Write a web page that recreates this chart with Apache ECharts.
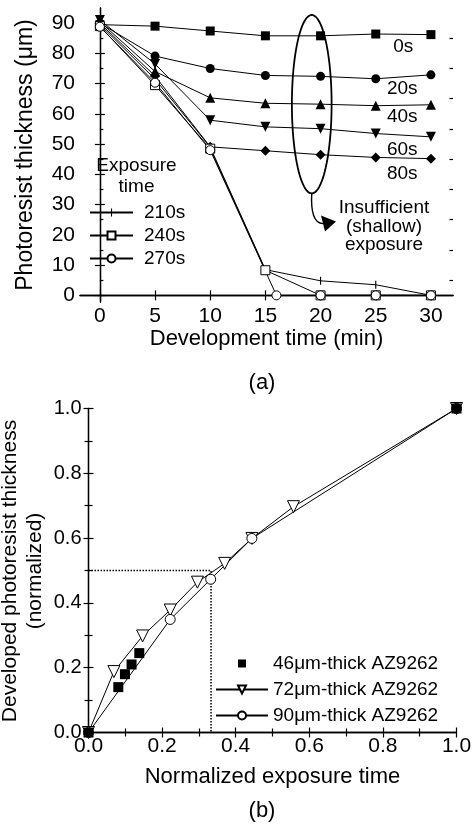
<!DOCTYPE html>
<html>
<head>
<meta charset="utf-8">
<script src="https://cdn.jsdelivr.net/npm/echarts@6/dist/echarts.min.js"></script>
<style>html,body{margin:0;padding:0;background:#fff}#c{width:476px;height:825px}</style>
</head>
<body>
<div id="c"></div>
<script>
// ---------- Data: chart (a) ----------
const devTime = [0, 5, 10, 15, 20, 25, 30];
const devTime270 = [0, 5, 10, 16, 20, 25, 30];
const thick0s   = [89.5, 89.0, 87.4, 85.8, 85.8, 86.4, 86.2];
const thick20s  = [90.0, 79.1, 75.0, 72.7, 72.4, 71.6, 72.9];
const thick40s  = [90.5, 74.0, 65.3, 63.5, 63.2, 62.7, 63.0];
const thick60s  = [91.0, 76.5, 57.9, 55.7, 55.1, 53.5, 52.4];
const thick80s  = [90.0, 72.5, 49.1, 47.8, 46.5, 45.6, 45.2];
const thick210s = [89.5, 71.5, 49.0, 8.5, 4.8, 3.5, 0];
const thick240s = [89.0, 69.5, 48.5, 8.3, 0, 0, 0];
const thick270s = [88.8, 70.3, 48.0, 0, 0, 0, 0];
const xTicksA = [0, 5, 10, 15, 20, 25, 30];
const yTicksA = [0, 10, 20, 30, 40, 50, 60, 70, 80, 90];
const yMinorA = [5, 15, 25, 35, 45, 55, 65, 75, 85];

// ---------- Data: chart (b) ----------
const exp46 = [0, 0.081, 0.099, 0.117, 0.138, 1];
const dev46 = [0, 0.14, 0.18, 0.21, 0.245, 1];
const exp72 = [0, 0.069, 0.147, 0.222, 0.296, 0.37, 0.444, 0.557, 1];
const dev72 = [0, 0.188, 0.298, 0.378, 0.464, 0.522, 0.599, 0.697, 1];
const exp90 = [0, 0.222, 0.332, 0.444, 1];
const dev90 = [0, 0.349, 0.473, 0.599, 1];
const guideX = [0, 0.333, 0.333];
const guideY = [0.5, 0.5, 0];

const FONT = 'Liberation Sans, Arial, Helvetica, sans-serif';
const zip = (xs, ys) => xs.map((x, i) => [x, ys[i]]);

const chart = echarts.init(document.getElementById('c'), null, {renderer: 'canvas'});

const axLine = {lineStyle: {color: '#000', width: 1.3}};
const tickMaj = (vals, len) => ({show: true, inside: true, length: len || 5, customValues: vals, lineStyle: {color: '#000', width: 1.2}});
const noSplit = {show: false};

const A_RANGE_X = {min: -1.8, max: 32};
const A_RANGE_Y = {min: -2.2, max: 95};

// thin vertical bar inside a square bounding box (corner dots are sub-pixel)
const BAR = 'path://M0,0h0.05v0.05h-0.05z M4.3,0h1.4v10h-1.4z M9.95,9.95h0.05v0.05h-0.05z';

const lineBase = (name, xs, ys, symbol, size, open, extra) => Object.assign({
  name, type: 'line', xAxisIndex: 0, yAxisIndex: 0,
  data: zip(xs, ys), symbol, symbolSize: size, clip: false,
  lineStyle: {color: '#000', width: 1},
  itemStyle: open ? {color: '#fff', borderColor: '#000', borderWidth: 1} : {color: '#000'},
  emphasis: {disabled: true}
}, extra || {});

const bTick = {show: true, inside: true, length: 5, lineStyle: {color: '#000', width: 1.2}};
const bMinor = {show: true, splitNumber: 2, length: 4, lineStyle: {color: '#000', width: 1.2}};

const option = {
  animation: false,
  backgroundColor: '#fff',
  textStyle: {fontFamily: FONT, color: '#000'},
  grid: [
    {left: 80, top: 8, width: 373, height: 294, outerBoundsMode: 'none'},
    {left: 80, top: 8, width: 373, height: 294, outerBoundsMode: 'none'},
    {left: 88.5, top: 408.5, width: 368, height: 324, outerBoundsMode: 'none'}
  ],
  xAxis: [
    Object.assign({gridIndex: 0, type: 'value', position: 'bottom', axisLine: axLine,
      axisTick: tickMaj(xTicksA),
      axisLabel: {customValues: xTicksA, fontSize: 21, margin: 4, color: '#000', fontFamily: FONT},
      splitLine: noSplit,
      name: 'Development time (min)', nameLocation: 'middle', nameGap: 22,
      nameTextStyle: {fontSize: 22, color: '#000', fontFamily: FONT}}, A_RANGE_X),
    Object.assign({gridIndex: 0, type: 'value', position: 'top', axisLine: axLine,
      axisTick: tickMaj(xTicksA), axisLabel: {show: false}, splitLine: noSplit}, A_RANGE_X),
    Object.assign({gridIndex: 1, type: 'value', show: false, splitLine: noSplit}, A_RANGE_X),
    {gridIndex: 2, type: 'value', position: 'bottom', min: 0, max: 1, interval: 0.2,
      axisLine: axLine, axisTick: bTick, minorTick: bMinor,
      axisLabel: {fontSize: 21, margin: 3, color: '#000', fontFamily: FONT, formatter: v => v.toFixed(1)},
      splitLine: noSplit, minorSplitLine: {show: false},
      name: 'Normalized exposure time', nameLocation: 'middle', nameGap: 33,
      nameTextStyle: {fontSize: 22, color: '#000', fontFamily: FONT}},
    {gridIndex: 2, type: 'value', position: 'top', min: 0, max: 1, interval: 0.2,
      axisLine: axLine, axisTick: bTick, minorTick: bMinor,
      axisLabel: {show: false}, splitLine: noSplit}
  ],
  yAxis: [
    Object.assign({gridIndex: 0, type: 'value', position: 'left', axisLine: axLine,
      axisTick: tickMaj(yTicksA),
      axisLabel: {customValues: yTicksA, fontSize: 21, margin: 5, color: '#000', fontFamily: FONT},
      splitLine: noSplit,
      name: 'Photoresist thickness (\u03bcm)', nameLocation: 'middle', nameRotate: 90, nameGap: 43,
      nameTextStyle: {fontSize: 23, color: '#000', fontFamily: FONT}}, A_RANGE_Y),
    Object.assign({gridIndex: 0, type: 'value', position: 'right', axisLine: axLine,
      axisTick: tickMaj(yTicksA), axisLabel: {show: false}, splitLine: noSplit}, A_RANGE_Y),
    Object.assign({gridIndex: 1, type: 'value', position: 'left', axisLine: {show: false},
      axisTick: tickMaj(yMinorA, 3.5), axisLabel: {show: false}, splitLine: noSplit}, A_RANGE_Y),
    Object.assign({gridIndex: 1, type: 'value', position: 'right', axisLine: {show: false},
      axisTick: tickMaj(yMinorA, 3.5), axisLabel: {show: false}, splitLine: noSplit}, A_RANGE_Y),
    {gridIndex: 2, type: 'value', position: 'left', min: 0, max: 1, interval: 0.2,
      axisLine: axLine, axisTick: bTick, minorTick: bMinor,
      axisLabel: {fontSize: 20, margin: 7, color: '#000', fontFamily: FONT, formatter: v => v.toFixed(1)},
      splitLine: noSplit, minorSplitLine: {show: false}},
    {gridIndex: 2, type: 'value', position: 'right', min: 0, max: 1, interval: 0.2,
      axisLine: axLine, axisTick: bTick, minorTick: bMinor,
      axisLabel: {show: false}, splitLine: noSplit}
  ],
  legend: [
    {data: ['210s', '240s', '270s'],
      orient: 'vertical', left: 84, top: 198,
      itemWidth: 43, itemHeight: 10, itemGap: 4, selectedMode: false,
      textStyle: {fontSize: 19, color: '#000', fontFamily: FONT, padding: [0, 0, 0, 6]}},
    {data: ['46\u03bcm-thick AZ9262', '72\u03bcm-thick AZ9262', '90\u03bcm-thick AZ9262'],
      orient: 'vertical', left: 210, top: 649, itemWidth: 52, itemHeight: 10, itemGap: 7, selectedMode: false,
      textStyle: {fontSize: 19, color: '#000', fontFamily: FONT}}
  ],
  series: [
    lineBase('0s', devTime, thick0s, 'rect', 9, false),
    lineBase('20s', devTime, thick20s, 'circle', 9, false),
    lineBase('40s', devTime, thick40s, 'triangle', 10, false),
    lineBase('60s', devTime, thick60s, 'triangle', 10, false, {symbolRotate: 180}),
    lineBase('80s', devTime, thick80s, 'diamond', 10, false),
    lineBase('210s', devTime, thick210s, BAR, 8, false),
    lineBase('240s', devTime, thick240s, 'rect', 9, true),
    lineBase('270s', devTime270, thick270s, 'circle', 9, true),
    {name: 'guide', type: 'line', xAxisIndex: 3, yAxisIndex: 4, data: zip(guideX, guideY),
      symbol: 'none', lineStyle: {color: '#000', width: 1.5, type: [1.5, 1.5]}, silent: true, z: 1},
    {name: '72\u03bcm-thick AZ9262', type: 'line', xAxisIndex: 3, yAxisIndex: 4, data: zip(exp72, dev72),
      symbol: 'triangle', symbolRotate: 180, symbolSize: 12, clip: false,
      lineStyle: {color: '#000', width: 1}, itemStyle: {color: '#fff', borderColor: '#000', borderWidth: 1}},
    {name: '90\u03bcm-thick AZ9262', type: 'line', xAxisIndex: 3, yAxisIndex: 4, data: zip(exp90, dev90),
      symbol: 'circle', symbolSize: 10, clip: false,
      lineStyle: {color: '#000', width: 1}, itemStyle: {color: '#fff', borderColor: '#000', borderWidth: 1}},
    {name: '46\u03bcm-thick AZ9262', type: 'line', xAxisIndex: 3, yAxisIndex: 4, data: zip(exp46, dev46),
      symbol: 'rect', symbolSize: 10, clip: false, z: 5,
      lineStyle: {color: '#000', width: 0, opacity: 0}, itemStyle: {color: '#000'}}
  ]
};

chart.setOption(option);

// ---------- Annotations ----------
const P = (x, y) => chart.convertToPixel({gridIndex: 0}, [x, y]);
const c = P(19.2, 63.2);
const e = P(21.0, 92.7);
const rx = e[0] - c[0], ry = c[1] - e[1];
const ellPts = [];
for (let i = 0; i <= 96; i++) {
  const t = i / 96 * Math.PI * 2;
  ellPts.push([c[0] + rx * Math.cos(t), c[1] + ry * Math.sin(t)]);
}
const st = [c[0], c[1] + ry];
const tip = P(21.4, 24.4);

const seriesLabels = [['0s', 27.5, 82.2], ['20s', 27.4, 68.4], ['40s', 27.4, 59.0], ['60s', 27.4, 48.0], ['80s', 27.4, 40.3]];
const txt = (text, x, y, size, rot) => ({type: 'text', x, y, rotation: rot || 0, silent: true,
  style: {text, fill: '#000', font: (size || 19) + 'px ' + FONT, textAlign: 'center', textVerticalAlign: 'middle'}});

const graphics = [
  {type: 'polyline', silent: true, shape: {points: ellPts}, style: {stroke: '#000', lineWidth: 1.8, fill: null}},
  {type: 'bezierCurve', silent: true,
    shape: {x1: st[0], y1: st[1], cpx1: st[0] - 1, cpy1: st[1] + 18, cpx2: st[0] + 2, cpy2: tip[1] + 3, x2: tip[0] - 12, y2: tip[1] + 2},
    style: {stroke: '#000', lineWidth: 1.4, fill: null}},
  {type: 'polygon', silent: true,
    shape: {points: [[tip[0], tip[1]], [tip[0] - 15, tip[1] - 6], [tip[0] - 11, tip[1] + 10]]},
    style: {fill: '#000'}},
  txt('Insufficient', 384, 207.5),
  txt('(shallow)', 384, 226.5),
  txt('exposure', 384, 245),
  txt('Exposure', 136.5, 166),
  txt('time', 136.5, 187),
  txt('(a)', 262, 383, 22),
  txt('(b)', 262, 811, 22),
  txt('Developed photoresist thickness', 10, 571, 21, Math.PI / 2),
  txt('(normalized)', 35, 571, 21, Math.PI / 2)
];
seriesLabels.forEach(([t, x, y]) => { const p = P(x, y); graphics.push(txt(t, p[0], p[1])); });
chart.setOption({graphic: graphics});
</script>
</body>
</html>
